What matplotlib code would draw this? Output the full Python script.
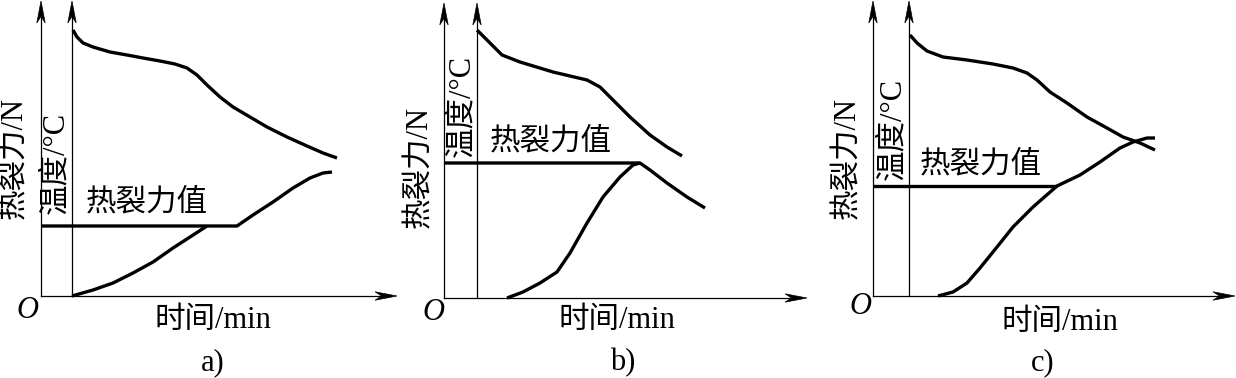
import matplotlib
matplotlib.use("Agg")
import matplotlib.pyplot as plt
from matplotlib.patches import Polygon

plt.rcParams['font.family'] = ['Liberation Serif', 'Noto Sans CJK SC', 'DejaVu Sans']

# ---------------- data (time units, value units) ----------
# panel a
a_temp_t = [3.2, 3.6, 4.2, 5.2, 6.9, 8.6, 10.2, 11.9, 13.4, 14.6, 15.6, 16.6,
            17.9, 19.2, 20.9, 22.6, 24.6, 26.6, 28.2, 29.6]
a_temp_v = [26.6, 25.9, 25.3, 24.9, 24.4, 24.1, 23.8, 23.5, 23.2, 22.8, 22.1, 21.1,
            19.9, 18.9, 17.9, 16.9, 15.9, 15.0, 14.3, 13.8]
a_force_t = [3.1, 5.2, 7.2, 9.2, 11.2, 13.2, 14.9, 16.6]
a_force_v = [0.0, 0.6, 1.3, 2.3, 3.4, 4.8, 5.9, 7.0]
a_crit_t = [0.0, 19.6, 21.2, 23.2, 25.2, 26.9, 28.2, 29.1]
a_crit_v = [7.0, 7.0, 8.1, 9.4, 10.8, 11.8, 12.3, 12.4]
a_taxis = 3.1

# panel b
b_temp_t = [3.3, 4.3, 5.8, 7.6, 10.9, 14.3, 15.6, 16.9, 18.6, 20.6, 22.3, 23.8]
b_temp_v = [26.8, 25.8, 24.3, 23.6, 22.6, 21.8, 21.1, 19.8, 18.1, 16.3, 15.1, 14.2]
b_force_t = [6.3, 7.9, 9.6, 11.3, 12.6, 14.3, 15.9, 17.6, 18.9, 19.6]
b_force_v = [0.0, 0.6, 1.5, 2.6, 4.5, 7.5, 10.1, 12.1, 13.3, 13.5]
b_crit_t = [0.0, 19.6, 20.6, 22.3, 24.3, 26.1]
b_crit_v = [13.5, 13.5, 12.8, 11.5, 10.1, 9.0]
b_taxis = 3.3

# panel c
c_temp_t = [3.7, 4.4, 5.4, 7.0, 9.4, 12.0, 14.0, 15.4, 16.4, 17.7, 19.4, 21.4,
            23.4, 25.0, 26.7, 28.2]
c_temp_v = [26.1, 25.3, 24.5, 23.9, 23.6, 23.2, 22.8, 22.3, 21.6, 20.4, 19.3, 17.9,
            16.8, 15.9, 15.3, 14.6]
c_force_t = [6.5, 8.0, 9.4, 10.7, 12.4, 14.0, 16.0, 18.4, 20.7, 22.7, 24.7, 26.0, 27.4, 28.2]
c_force_v = [0.0, 0.4, 1.3, 2.8, 4.9, 6.9, 8.9, 11.0, 12.1, 13.4, 14.8, 15.4, 15.8, 15.8]
c_crit_t = [0.0, 18.4]
c_crit_v = [11.0, 11.0]
c_taxis = 3.6

panel_labels = ['a)', 'b)', 'c)']
ylabel_force = '热裂力/N'
ylabel_temp = '温度/°C'
xlabel = '时间/min'
crit_label = '热裂力值'

W, H = 1236, 378
fig = plt.figure(figsize=(W / 100, H / 100), dpi=100)
fig.patch.set_facecolor('white')

origins = [(41, 296), (444, 298), (873, 296)]  # pixel origin of each panel
x_ends = [35.6, 36.3, 36.2]
y_top = 29.5

panels = [
    (a_temp_t, a_temp_v, a_force_t, a_force_v, a_crit_t, a_crit_v, a_taxis),
    (b_temp_t, b_temp_v, b_force_t, b_force_v, b_crit_t, b_crit_v, b_taxis),
    (c_temp_t, c_temp_v, c_force_t, c_force_v, c_crit_t, c_crit_v, c_taxis),
]
# text placement per panel (data units)
txt = [
    dict(fy=(-2.6, 13.8), ty=(1.5, 13.3), crit=(4.5, 9.3), xl=(17.2, -2.4), pl=(17.2, -6.7), o=(-1.4, -1.4)),
    dict(fy=(-2.4, 13.1), ty=(1.8, 19.2), crit=(4.6, 15.6), xl=(17.3, -2.2), pl=(17.9, -6.5), o=(-1.1, -1.4)),
    dict(fy=(-2.5, 13.8), ty=(2.0, 16.7), crit=(4.7, 13.1), xl=(18.7, -2.6), pl=(17.0, -6.7), o=(-1.3, -1.1)),
]

FS = 22
lw_thin = 0.9
lw_thick = 2.4


def arrow_head(ax, tip, direction):
    x, y = tip
    L, w, notch = 2.2, 0.42, 0.7
    if direction == 'up':
        pts = [(x, y), (x - w, y - L), (x, y - notch * L), (x + w, y - L)]
    else:
        pts = [(x, y), (x - L, y + w), (x - notch * L, y), (x - L, y - w)]
    ax.add_patch(Polygon(pts, closed=True, facecolor='black', edgecolor='black',
                         lw=0.5, clip_on=False, zorder=5))


for i, (p, t) in enumerate(zip(panels, txt)):
    tt, tv, ft, fv, ct, cv, taxis = p
    x0, y0 = origins[i]
    ax = fig.add_axes([(x0 - 40) / W, (H - (y0 + 80)) / H, 405 / W, 376 / H])
    ax.set_xlim(-4, 36.5)
    ax.set_ylim(-8, 29.6)
    ax.axis('off')

    # axes lines
    ax.plot([0, x_ends[i] - 1.5], [0, 0], color='black', lw=lw_thin, clip_on=False)
    ax.plot([0, 0], [0, y_top - 1.5], color='black', lw=lw_thin, clip_on=False)
    ax.plot([taxis, taxis], [0, y_top - 1.5], color='black', lw=lw_thin, clip_on=False)
    arrow_head(ax, (x_ends[i], 0), 'right')
    arrow_head(ax, (0, y_top), 'up')
    arrow_head(ax, (taxis, y_top), 'up')

    # curves
    kw = dict(color='black', lw=lw_thick, solid_joinstyle='round',
              solid_capstyle='butt', clip_on=False)
    ax.plot(tt, tv, **kw)
    ax.plot(ft, fv, **kw)
    ax.plot(ct, cv, **kw)

    # texts
    ax.text(*t['fy'], ylabel_force, rotation=90, ha='center', va='center', fontsize=FS)
    ax.text(*t['ty'], ylabel_temp, rotation=90, ha='center', va='center', fontsize=FS)
    ax.text(*t['crit'], crit_label, ha='left', va='center', fontsize=FS)
    ax.text(*t['xl'], xlabel, ha='center', va='center', fontsize=FS)
    ax.text(*t['pl'], panel_labels[i], ha='center', va='center', fontsize=FS)
    ax.text(*t['o'], 'O', ha='center', va='center', fontsize=FS, style='italic')

fig.savefig('out.png', dpi=100, facecolor='white')
